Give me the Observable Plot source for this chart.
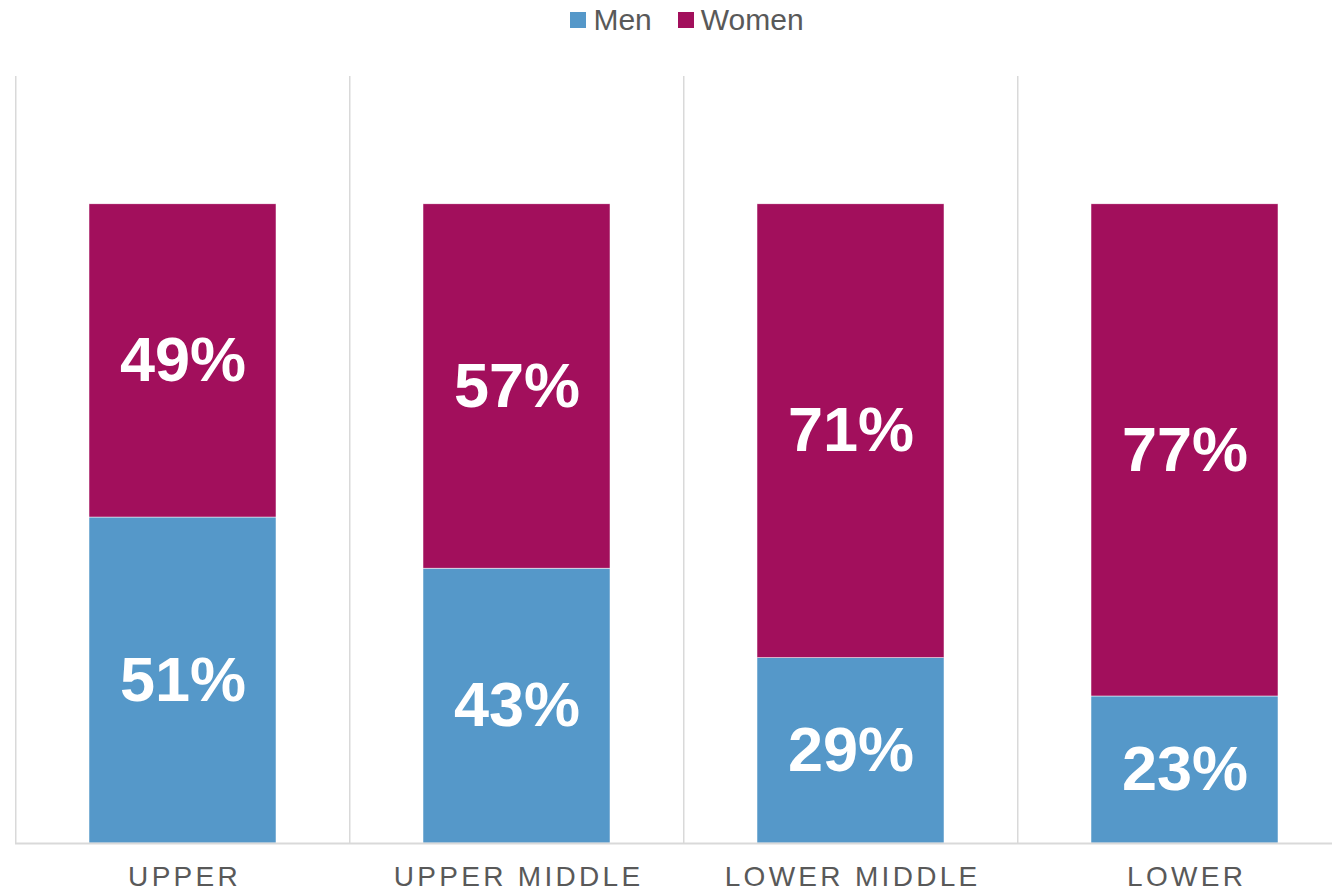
<!DOCTYPE html>
<html>
<head>
<meta charset="utf-8">
<script src="https://cdn.jsdelivr.net/npm/d3@7"></script>
<script src="https://cdn.jsdelivr.net/npm/@observablehq/plot@0.6"></script>
<style>
  html, body { margin: 0; padding: 0; background: #fff; overflow: hidden; }
  body { width: 1332px; height: 891px; font-family: "Liberation Sans", Arial, sans-serif; }
  #legend { height: 40px; display: flex; justify-content: center; align-items: center; padding-left: 42px; box-sizing: border-box; font-size: 30px; color: #595959; }
  .item { display: flex; align-items: center; }
  .sw { width: 16px; height: 16px; margin-right: 7px; }
  .item + .item { margin-left: 26px; }
</style>
</head>
<body>
<div id="legend"></div>
<div id="chart"></div>
<script>
const categories = ["UPPER", "UPPER MIDDLE", "LOWER MIDDLE", "LOWER"];
const series = ["Men", "Women"];
const menValues = [0.51, 0.43, 0.29, 0.23];
const womenValues = [0.49, 0.57, 0.71, 0.77];
const colors = ["#5598c9", "#a20f5c"];

const data = [];
categories.forEach((c, i) => {
  data.push({category: c, sex: "Men", value: menValues[i]});
  data.push({category: c, sex: "Women", value: womenValues[i]});
});

const legend = document.getElementById("legend");
series.forEach((s, i) => {
  const item = document.createElement("div");
  item.className = "item";
  item.innerHTML = `<div class="sw" style="background:${colors[i]}"></div><span>${s}</span>`;
  legend.appendChild(item);
});

const xRange = [15, 1353];
const step = (xRange[1] - xRange[0]) / categories.length;

const chart = Plot.plot({
  width: 1332,
  height: 851,
  marginTop: 36,
  marginBottom: 48,
  marginLeft: 15,
  marginRight: 0,
  style: {fontFamily: "'Liberation Sans', Arial, sans-serif", background: "#fff"},
  x: {domain: categories, range: xRange, paddingInner: 0.44, paddingOuter: 0.22, label: null},
  y: {domain: [0, 1.2], axis: null},
  color: {domain: series, range: colors},
  marks: [
    Plot.ruleX(categories, {x: d => d, dx: -step / 2, stroke: "#d9d9d9", strokeWidth: 1.5}),
    Plot.barY(data, {x: "category", y: "value", fill: "sex", z: "sex", order: series, stroke: "white", strokeWidth: 0.5}),
    Plot.ruleY([0], {stroke: "#d9d9d9", strokeWidth: 2}),
    Plot.text(data, Plot.stackY({x: "category", y: "value", z: "sex", order: series,
      text: d => Math.round(d.value * 100) + "%",
      fill: "white", fontSize: 63, fontWeight: "bold"})),
    Plot.axisX({tickSize: 0, tickPadding: 23, fontSize: 28, fill: "#595959", dx: 1.6})
  ]
});
chart.querySelectorAll("g[aria-label='x-axis tick label']").forEach(n => n.setAttribute("letter-spacing", "3.3px"));
document.getElementById("chart").appendChild(chart);
</script>
</body>
</html>
